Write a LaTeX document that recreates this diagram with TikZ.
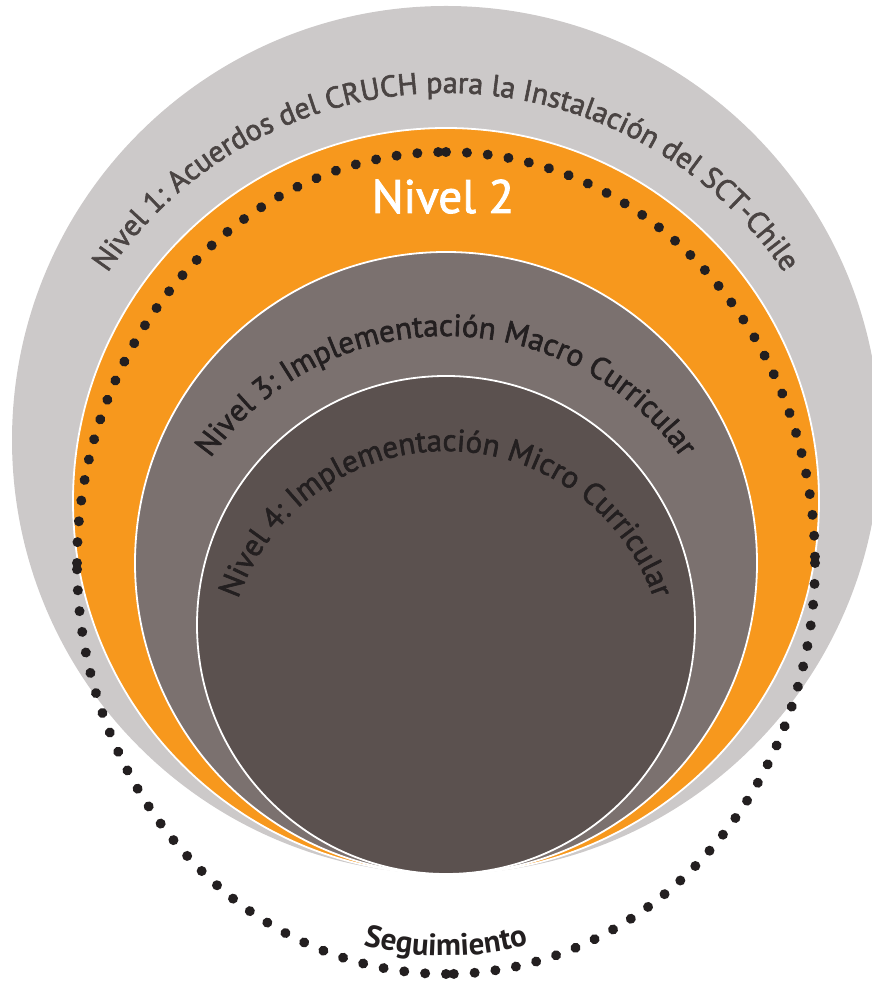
\documentclass[tikz,border=0pt]{standalone}
\usepackage{fontspec}
\newfontfamily\ptsans{PT Sans}
\newfontfamily\ptsansh[FakeBold=2]{PT Sans}
\usetikzlibrary{decorations.text,decorations.markings}
\definecolor{gOuter}{HTML}{CCC9C9}
\definecolor{gOrange}{HTML}{F7981D}
\definecolor{gMid}{HTML}{7B716F}
\definecolor{gDark}{HTML}{5B514F}
\definecolor{dotc}{HTML}{231F20}
\definecolor{txtA}{HTML}{4A4443}
\definecolor{txtB}{HTML}{231F20}
\tikzset{
  ring/.style={circle, inner sep=0pt, outer sep=0pt, draw=white, line width=1.8pt},
  dotmark/.style={decorate, decoration={markings,
      mark=between positions 0 and 1 step 0.033333 with {\fill[dotc] (0,0) circle[radius=5pt];}}}
}
\begin{document}
\begin{tikzpicture}[x=1pt,y=1pt]
\useasboundingbox (0,0) rectangle (872,982);
% circles (all tangent at bottom)
\node[circle, inner sep=0pt, fill=gOuter, minimum size=868pt] (lvl1) at (446,542) {};
\node[ring, fill=gOrange, minimum size=746pt] (lvl2) at (446,481) {};
\node[ring, fill=gMid, minimum size=622pt] (lvl3) at (446,419) {};
\node[ring, fill=gDark, minimum size=498pt] (lvl4) at (446,357) {};
% dotted ellipse, four clockwise quarters
\foreach \a in {90,0,-90,-180}{
  \pgfmathsetmacro\sx{446+369*cos(\a)}
  \pgfmathsetmacro\sy{419+411*sin(\a)}
  \path[dotmark] (\sx,\sy) arc[start angle=\a, end angle=\a-92, x radius=369pt, y radius=411pt];
}
% curved labels
\path[decorate, decoration={text along path, text align=center, text color=txtA,
  text={|\ptsansh\fontsize{30}{30}\selectfont|Nivel 1: Acuerdos del CRUCH para la Instalación del SCT-Chile}}]
  (446,481) ++(170:408) arc[start angle=170, end angle=10, radius=408pt];
\path[decorate, decoration={text along path, text align=center, text color=txtB,
  text={|\ptsansh\fontsize{31}{31}\selectfont|Nivel 3: Implementación Macro Curricular}}]
  (446,358) ++(175:288) arc[start angle=175, end angle=5, radius=288pt];
\path[decorate, decoration={text along path, text align=center, text color=txtB,
  text={|\ptsansh\fontsize{31}{31}\selectfont|Nivel 4: Implementación Micro Curricular}}]
  (446,311) ++(185:220) arc[start angle=185, end angle=-5, radius=220pt];
\node[text=white, font=\ptsansh\fontsize{47}{47}\selectfont, anchor=base, inner sep=0pt] (n2) at (443,769) {Nivel 2};
\path[decorate, decoration={text along path, text align=center, text color=txtB,
  text={|\ptsans\bfseries\fontsize{31}{31}\selectfont|Seguimiento}}]
  (268,79) arc[start angle=240, end angle=300, x radius=356pt, y radius=394pt];
\end{tikzpicture}
\end{document}
